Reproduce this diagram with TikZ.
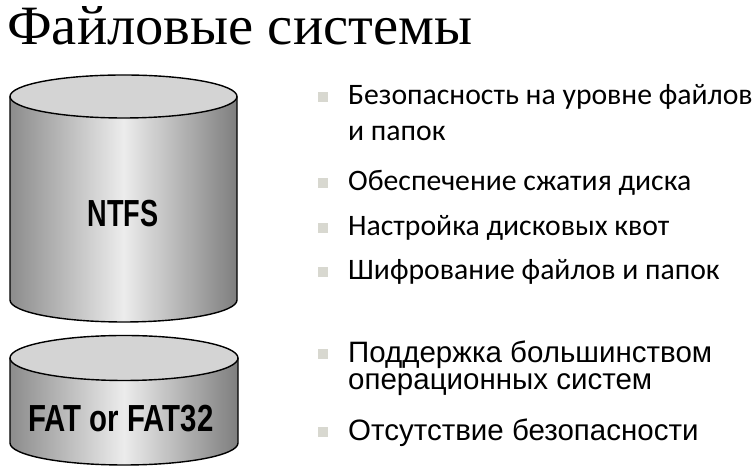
\documentclass[tikz,border=0pt]{standalone}
\usepackage{fontspec}
\setmainfont{Liberation Serif}
\newfontfamily\calfont{Carlito}
\newfontfamily\arialfont{Liberation Sans}
\newfontfamily\narrowfont[FakeStretch=0.72]{Liberation Sans Bold}
\newfontfamily\narrowfontb[FakeStretch=0.78]{Liberation Sans Bold}
\newfontfamily\titlefont[FakeStretch=1.02]{Liberation Serif}
\definecolor{sideedge}{HTML}{8C8C8C}
\definecolor{sidemid}{HTML}{ECECEC}
\definecolor{topfill}{HTML}{D4D4D4}
\definecolor{bulletgray}{HTML}{D8D8D0}
\begin{document}
\begin{tikzpicture}[x=1pt,y=1pt,
  cyl/.style={draw=black,line width=1.4pt},
  cylshade/.style={left color=sideedge,right color=sideedge!90!black,middle color=sidemid},
  bul/.style={fill=bulletgray,minimum size=10pt,inner sep=0pt},
  caltext/.style={anchor=west,inner sep=0pt,font=\calfont\fontsize{29.7}{33}\selectfont},
  artext/.style={anchor=base west,inner sep=0pt,text height=21.5pt,text depth=5pt,font=\arialfont\fontsize{29.5}{33}\selectfont},
  cyllabel/.style={anchor=base,inner sep=0pt,font=\narrowfont\fontsize{37.7}{40}\selectfont},
  cyllabelb/.style={anchor=base,inner sep=0pt,font=\narrowfontb\fontsize{37.7}{40}\selectfont}]
\useasboundingbox (0,0) rectangle (756,470);
% title
\node[anchor=base west,inner sep=0pt,text height=38pt,text depth=10pt,font=\titlefont\fontsize{55.5}{62}\selectfont] (title) at (7,425) {Файловые системы};
% NTFS cylinder
\shade[cylshade]
  (10,373.5) -- (10,170) arc[start angle=180,end angle=360,x radius=113.5,y radius=22] -- (237,373.5) -- cycle;
\draw[cyl] (10,373.5) -- (10,170) arc[start angle=180,end angle=360,x radius=113.5,y radius=22] -- (237,373.5);
\draw[cyl,fill=topfill] (123.5,373.5) ellipse[x radius=113.5,y radius=21.5];
\node[cyllabel] (ntfs) at (123,243) {NTFS};
% FAT cylinder
\shade[cylshade]
  (10,112) -- (10,27) arc[start angle=180,end angle=360,x radius=114,y radius=22] -- (238,112) -- cycle;
\draw[cyl] (10,112) -- (10,27) arc[start angle=180,end angle=360,x radius=114,y radius=22] -- (238,112);
\draw[cyl,fill=topfill] (124,112) ellipse[x radius=114,y radius=22.5];
\node[cyllabelb] (fat) at (121,38) {FAT or FAT32};
% bullets NTFS
\node[bul] (b1) at (323,373) {};
\node[caltext] (t1) at (348,373) {Безопасность на уровне файлов};
\node[caltext] (t1b) at (348,337) {и папок};
\node[bul] (b2) at (323,287) {};
\node[caltext] (t2) at (348,287) {Обеспечение сжатия диска};
\node[bul] (b3) at (323,242) {};
\node[caltext] (t3) at (348,242) {Настройка дисковых квот};
\node[bul] (b4) at (323,198) {};
\node[caltext] (t4) at (348,198) {Шифрование файлов и папок};
% bullets FAT
\node[bul] (b5) at (323,116) {};
\node[artext] (t5) at (348,107) {Поддержка большинством};
\node[artext] (t5b) at (348,80) {операционных систем};
\node[bul] (b6) at (323,38) {};
\node[artext] (t6) at (348,29) {Отсутствие безопасности};
\end{tikzpicture}
\end{document}
